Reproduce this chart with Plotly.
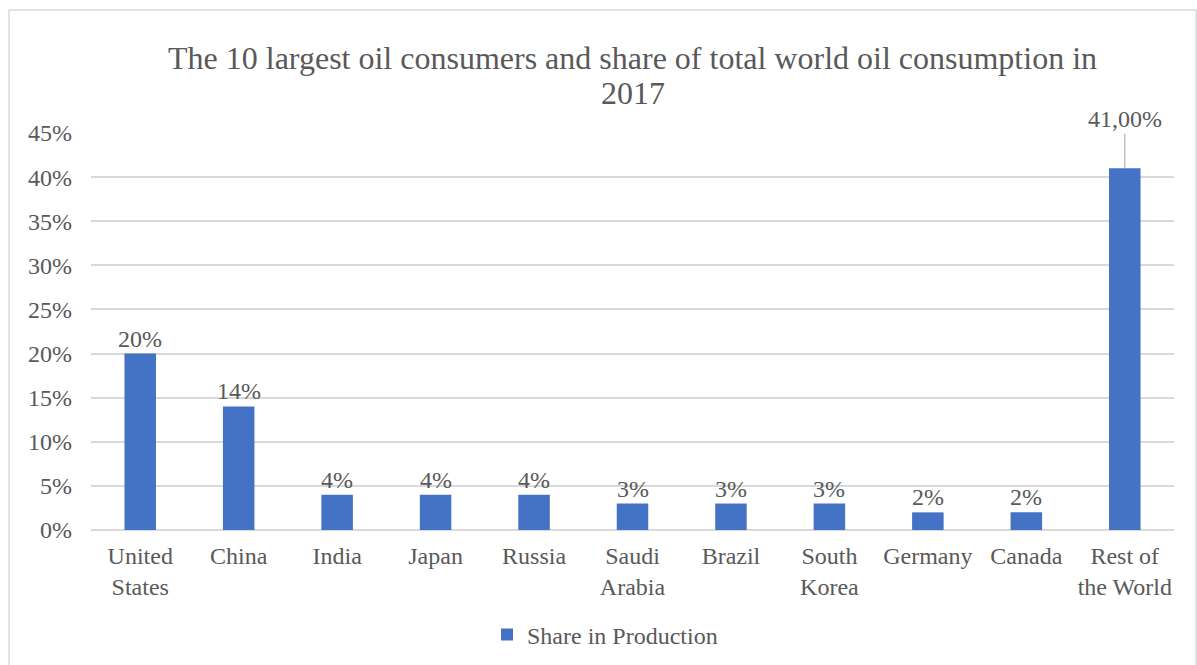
import plotly.graph_objects as go

categories = ["United<br>States", "China", "India", "Japan", "Russia", "Saudi<br>Arabia",
              "Brazil", "South<br>Korea", "Germany", "Canada", "Rest of<br>the World"]
shares = [0.20, 0.14, 0.04, 0.04, 0.04, 0.03, 0.03, 0.03, 0.02, 0.02, 0.41]
labels = ["20%", "14%", "4%", "4%", "4%", "3%", "3%", "3%", "2%", "2%", "41,00%"]
tick_vals = [0, 0.05, 0.10, 0.15, 0.20, 0.25, 0.30, 0.35, 0.40, 0.45]
tick_text = ["0%", "5%", "10%", "15%", "20%", "25%", "30%", "35%", "40%", "45%"]
series_name = "Share in Production"
title_lines = ["The 10 largest oil consumers and share of total world oil consumption in", "2017"]

FONT = "Liberation Serif"
GRAY = "#595959"
BLUE = "#4472C4"
FS = 24
PLOT_LEFT, PLOT_RIGHT = 91, 1174
PLOT_TOP, PLOT_BOTTOM = 133, 530
PLOT_H = PLOT_BOTTOM - PLOT_TOP
PLOT_W = PLOT_RIGHT - PLOT_LEFT

fig = go.Figure()
fig.add_trace(go.Bar(
    x=categories, y=shares, name=series_name,
    marker=dict(color=BLUE, line=dict(width=0)),
    width=0.32, showlegend=True,
))

annotations = []
for i, (c, v, t) in enumerate(zip(categories, shares, labels)):
    if i == len(categories) - 1:
        annotations.append(dict(x=c, y=v, text=t, xref="x", yref="y",
                                showarrow=True, arrowhead=0, arrowwidth=1,
                                arrowcolor="#A6A6A6", ax=0, ay=-49,
                                font=dict(family=FONT, size=FS, color=GRAY)))
    else:
        annotations.append(dict(x=c, y=v, text=t, xref="x", yref="y",
                                showarrow=False, yanchor="bottom", yshift=0,
                                font=dict(family=FONT, size=FS, color=GRAY)))

for line, ypix in zip(title_lines, [58, 93]):
    annotations.append(dict(text=line, x=0.5, xref="paper", xanchor="center",
                            y=(PLOT_BOTTOM - ypix) / PLOT_H, yref="paper", yanchor="middle",
                            showarrow=False, font=dict(family=FONT, size=32, color=GRAY)))

fig.update_layout(
    width=1197, height=665,
    paper_bgcolor="white", plot_bgcolor="white",
    margin=dict(l=PLOT_LEFT, r=1197 - PLOT_RIGHT, t=PLOT_TOP, b=665 - PLOT_BOTTOM,
                autoexpand=False),
    font=dict(family=FONT, size=FS, color=GRAY),
    bargap=0.68,
    xaxis=dict(showgrid=False, showline=False, ticks="", ticklabelstandoff=9,
               automargin=False,
               tickfont=dict(family=FONT, size=FS, color=GRAY)),
    yaxis=dict(range=[0, 0.45], tickvals=tick_vals, ticktext=tick_text,
               showgrid=True, gridcolor="#D9D9D9", gridwidth=1.5,
               zeroline=True, zerolinecolor="#D9D9D9", zerolinewidth=1.5,
               showline=False, ticks="", ticklabelstandoff=18, automargin=False,
               tickfont=dict(family=FONT, size=FS, color=GRAY)),
    legend=dict(orientation="h", x=(605 - PLOT_LEFT) / PLOT_W, xanchor="center",
                y=-(635 - PLOT_BOTTOM) / PLOT_H, yanchor="middle",
                font=dict(family=FONT, size=FS, color=GRAY)),
    annotations=annotations,
    shapes=[dict(type="rect", xref="paper", yref="paper",
                 x0=(9 - PLOT_LEFT) / PLOT_W, x1=(1196 - PLOT_LEFT) / PLOT_W,
                 y0=-(700 - PLOT_BOTTOM) / PLOT_H, y1=(PLOT_BOTTOM - 10) / PLOT_H,
                 line=dict(color="#D9D9D9", width=1.5), fillcolor="rgba(0,0,0,0)",
                 layer="below")],
)

fig.write_html("out.html")
